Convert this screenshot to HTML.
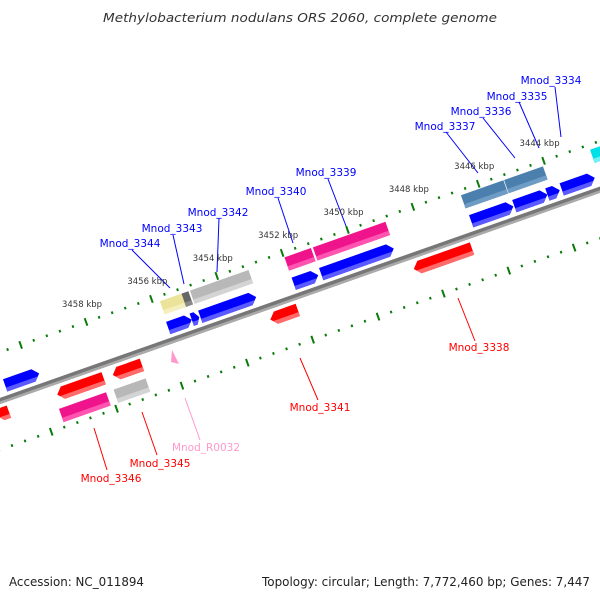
<!DOCTYPE html>
<html><head><meta charset="utf-8"><style>
body{margin:0;background:#fff}
svg{display:block}
text{font-family:"DejaVu Sans","Liberation Sans",sans-serif}
</style></head><body>
<svg id="chart" width="600" height="600" viewBox="0 0 600 600" xmlns="http://www.w3.org/2000/svg">
<rect width="600" height="600" fill="#fff"/>
<text x="300" y="22" text-anchor="middle" font-size="12.5" font-style="italic" fill="#333" textLength="394" lengthAdjust="spacingAndGlyphs">Methylobacterium nodulans ORS 2060, complete genome</text>
<g id="rot" transform="translate(0,401) rotate(-19.4)"></g>
<g id="labels"></g>
<text x="9" y="586" font-size="12" fill="#222" textLength="135" lengthAdjust="spacingAndGlyphs">Accession: NC_011894</text>
<text x="262" y="586" font-size="12" fill="#222" textLength="328" lengthAdjust="spacingAndGlyphs">Topology: circular; Length: 7,772,460 bp; Genes: 7,447</text>
</svg>
<script>
// data (positions in kbp)
const geneStart = [3460.81,3455.82,3455.10,3454.84,3451.98,3451.14,3446.55,3445.23,3444.22,3443.78,
  3455.79,3455.13,3454.87,3451.98,3451.11,3446.58,3445.26,3442.63,
  3461.33,3459.48,3457.78,3452.96,3448.57,
  3459.57,3457.90];
const geneEnd = [3459.77,3455.10,3454.87,3453.13,3451.23,3448.92,3445.26,3444.22,3443.84,3442.77,
  3455.13,3454.92,3453.08,3451.17,3448.89,3445.28,3444.07,3440.90,
  3460.96,3458.06,3456.89,3452.12,3446.79,
  3458.13,3456.92];
const geneRow = ['B','B','B','B','B','B','B','B','B','B','A','A','A','A','A','A','A','A','C','C','C','C','C','D','D'];
const geneKind = ['cds','cds','cds','cds','cds','cds','cds','cds','cds','cds',
  'yellow','dgray','gray','pink','pink','steel','steel','cyan',
  'cdsr','cdsr','cdsr','cdsr','cdsr','pink','gray'];
const tickMin = 3438, tickMax = 3462;
const tickLabels = [3444,3446,3448,3450,3452,3454,3456,3458];
const labelNames = ['Mnod_3334','Mnod_3335','Mnod_3336','Mnod_3337','Mnod_3339','Mnod_3340','Mnod_3342','Mnod_3343','Mnod_3344','Mnod_3338','Mnod_3341','Mnod_3345','Mnod_3346','Mnod_R0032'];
const labelX = [551,517,481,445,326,276,218,172,130,479,320,160,111,206];
const labelY = [80,96,111,126,172,191,212,228,243,347,407,463,478,447];

const NS='http://www.w3.org/2000/svg';
const COS=Math.cos(19.4*Math.PI/180), SIN=Math.sin(19.4*Math.PI/180);
function uScale(k){return 246+(3454-k)*34.65;}
function toScreen(u,v){return [u*COS+v*SIN, 401-u*SIN+v*COS];}
const rot=document.getElementById('rot');
function mk(tag,attrs,parent){const e=document.createElementNS(NS,tag);for(const k in attrs)e.setAttribute(k,attrs[k]);(parent||rot).appendChild(e);return e;}

// backbone
let bb=mk('rect',{x:-100,y:-3,width:900,height:6,fill:'#777'});


let bb2=mk('rect',{x:-100,y:0.5,width:900,height:2.5,fill:'#aaa'});



// ticks
for(let i=0;i<=Math.round((tickMax-tickMin)/0.4);i++){
  const k=tickMin+i*0.4;
  const u=uScale(k);
  const major=Math.abs(k/2-Math.round(k/2))<0.01;
  [-46,46].forEach(v=>{
    const r=mk('rect',{x:u-1,y:v-(major?4:1.3),width:2,height:major?8:2.6,fill:'#0a7a0a'});
    
    
  });
}
tickLabels.forEach(k=>{
  const p=toScreen(uScale(k),-46);
  const t=mk('text',{x:p[0]-4,y:p[1]-15,'text-anchor':'middle','font-size':'8.5',fill:'#333'},document.getElementById('chart'));
  t.textContent=k+' kbp';
  
  
});

// genes
const rowV={A:-34,B:-13,C:13,D:34};
const col={cds:['#0000ff','#5a5aff'],cdsr:['#ff0000','#ff6a6a'],yellow:['#ece39a','#f5efbf'],dgray:['#666','#8a8a8a'],gray:['#b8b8b8','#d4d4d4'],pink:['#f0148c','#ff55b0'],steel:['#4a7fae','#6f9cc4'],cyan:['#00e0e8','#70f0f4']};
for(let i=0;i<geneStart.length;i++){
  const a=uScale(geneStart[i]), b=uScale(geneEnd[i]);
  const vc=rowV[geneRow[i]], h=(geneRow[i]==='A'||geneRow[i]==='D')?14:13;
  const t=vc-h/2, bo=vc+h/2, hd=Math.min(6,(b-a)*0.5);
  const c=col[geneKind[i]];
  let pts, pts2;
  const sl=bo-h*0.32;
  if(geneKind[i]==='cds'){
    pts=[[a,t],[b-hd,t],[b,vc],[b-hd,bo],[a,bo]];
    pts2=[[a,sl],[b-hd*(bo-sl)/(h/2)+0,sl],[b-hd,bo],[a,bo]];
    pts2=[[a,sl],[b-hd*((sl-vc)/(h/2)),sl],[b-hd,bo],[a,bo]];
  } else if(geneKind[i]==='cdsr'){
    pts=[[b,t],[a+hd,t],[a,vc],[a+hd,bo],[b,bo]];
    pts2=[[b,sl],[a+hd*((sl-vc)/(h/2)),sl],[a+hd,bo],[b,bo]];
  } else {
    pts=[[a,t],[b,t],[b,bo],[a,bo]];
    pts2=[[a,sl],[b,sl],[b,bo],[a,bo]];
  }
  const g=mk('g',{});
  
  
  mk('polygon',{points:pts.map(p=>p.join(',')).join(' '),fill:c[0]},g);
  mk('polygon',{points:pts2.map(p=>p.join(',')).join(' '),fill:c[1]},g);
}

// labels
const lines=[[555,87,561,137],[519,102,539,148],[483,118,515,158],[446,132,478,173],[328,179,346,226],[278,198,293,243],[219,218,217,272],[173,235,184,284],[132,250,170,288],[458,298,475,341],[300,358,318,400],[142,412,157,455],[94,428,107,470],[185,398,200,440]];
const lab=document.getElementById('labels');
for(let i=0;i<labelNames.length;i++){
  const n=labelNames[i];
  const c=n==='Mnod_R0032'?'#ff99cc':(i>=9?'#ff0000':'#0000ff');
  const L=lines[i];
  const ln=mk('line',{x1:L[0],y1:L[1],x2:L[2],y2:L[3],stroke:c,'stroke-width':1},lab);
  
  
  const t=mk('text',{x:labelX[i],y:labelY[i]+4,'text-anchor':'middle','font-size':'10.5',fill:c},lab);
  t.textContent=n;
  
  
}
const tri=mk('polygon',{points:'172,350 176,358 179,364 171,362',fill:'#ff99cc'},lab);


</script>
</body></html>
